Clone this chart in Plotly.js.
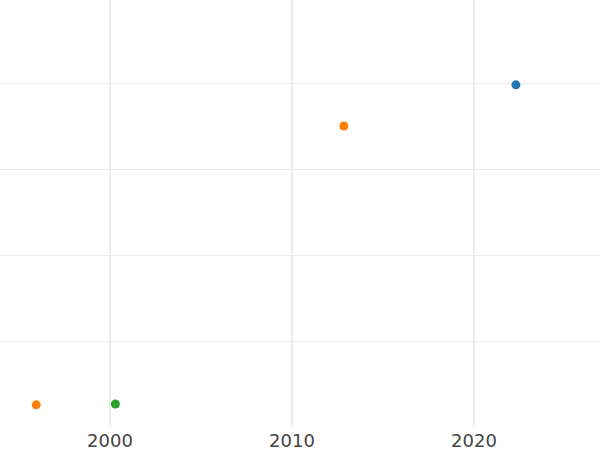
<!DOCTYPE html>
<html>
<head>
<meta charset="utf-8">
<script src="https://cdn.plot.ly/plotly-3.0.1.min.js"></script>
<style>html,body{margin:0;padding:0;background:#fff;}#chart{width:600px;height:450px;}</style>
</head>
<body>
<div id="chart"></div>
<script>
const blueYears = [2022.3];
const blueValues = [3.99];
const orangeYears = [2012.85, 1995.95];
const orangeValues = [3.51, 0.255];
const greenYears = [2000.3];
const greenValues = [0.265];
const xTickValues = [2000, 2010, 2020];
const xTickLabels = ["2000", "2010", "2020"];

const traces = [
  {x: blueYears, y: blueValues, type: 'scatter', mode: 'markers', marker: {color: '#1f77b4', size: 9}},
  {x: orangeYears, y: orangeValues, type: 'scatter', mode: 'markers', marker: {color: '#ff7f0e', size: 9}},
  {x: greenYears, y: greenValues, type: 'scatter', mode: 'markers', marker: {color: '#2ca02c', size: 9}}
];

const layout = {
  width: 600, height: 450,
  margin: {l: 0, r: 0, t: 0, b: 25, pad: 0},
  paper_bgcolor: '#fff', plot_bgcolor: '#fff',
  showlegend: false,
  font: {family: 'DejaVu Sans', color: '#444'},
  xaxis: {
    range: [1993.96, 2026.92],
    tickvals: xTickValues, ticktext: xTickLabels,
    showgrid: true, gridcolor: '#ebebeb', gridwidth: 2,
    zeroline: false, showline: false, ticks: '',
    ticklabelstandoff: 3,
    tickfont: {size: 18, color: '#444', family: 'DejaVu Sans'}
  },
  yaxis: {
    range: [0.02, 4.98], dtick: 1, tick0: 0,
    showgrid: true, gridcolor: '#ebebeb', gridwidth: 1,
    zeroline: false, showline: false, showticklabels: false, ticks: ''
  }
};

Plotly.newPlot('chart', traces, layout, {displayModeBar: false, staticPlot: true});
</script>
</body>
</html>
